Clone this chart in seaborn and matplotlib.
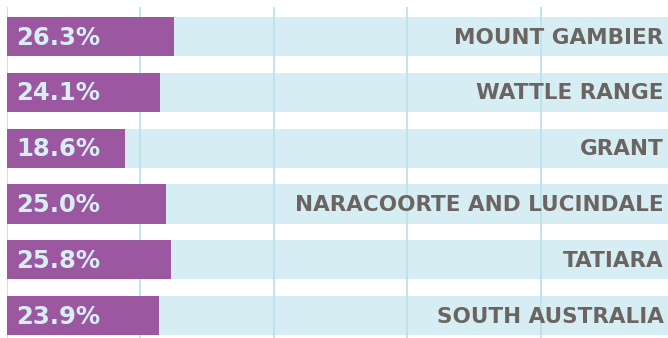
import matplotlib
matplotlib.use("Agg")
import matplotlib.pyplot as plt
import seaborn as sns
import pandas as pd

# data
regions = ["MOUNT GAMBIER", "WATTLE RANGE", "GRANT",
           "NARACOORTE AND LUCINDALE", "TATIARA", "SOUTH AUSTRALIA"]
shares = [26.3, 24.1, 18.6, 25.0, 25.8, 23.9]

purple = "#9b58a0"
pale = "#d5edf3"
grid_col = "#bde1ec"

df = pd.DataFrame({"region": regions, "share": shares})
df["full"] = 110

sns.set_style("white")
plt.rcParams["font.family"] = ["DejaVu Sans"]

fig = plt.figure(figsize=(6.68, 3.38), dpi=100)
ax = fig.add_axes([7 / 668, 0, 1 - 7 / 668, (338 - 7) / 338])

# background bars
sns.barplot(data=df, x="full", y="region", color=pale, width=0.7,
            saturation=1, orient="h", ax=ax, zorder=1)
# gridlines above background, below values
for gx in [0, 21, 42, 63, 84]:
    ax.axvline(gx, color=grid_col, lw=1.3, zorder=2)
sns.barplot(data=df, x="share", y="region", color=purple, width=0.7,
            saturation=1, orient="h", ax=ax, zorder=3)
for p in ax.patches:
    p.set_edgecolor("none")

for i, (r, v) in enumerate(zip(regions, shares)):
    ax.text(1.5, i + 0.02, f"{v:.1f}%", color="#d8eef5", fontsize=17.5,
            fontweight="bold", va="center", ha="left", zorder=4)
    ax.text(103.3, i + 0.02, r, color="#6b6561", fontsize=15.5,
            fontweight="bold", va="center", ha="right", zorder=4)

ax.set_xlim(0, 104)
ax.set_ylim(5.4, -0.527)
ax.set_xlabel("")
ax.set_ylabel("")
ax.set_xticks([])
ax.set_yticks([])
sns.despine(ax=ax, left=True, bottom=True)

fig.savefig("out.png", dpi=100)
